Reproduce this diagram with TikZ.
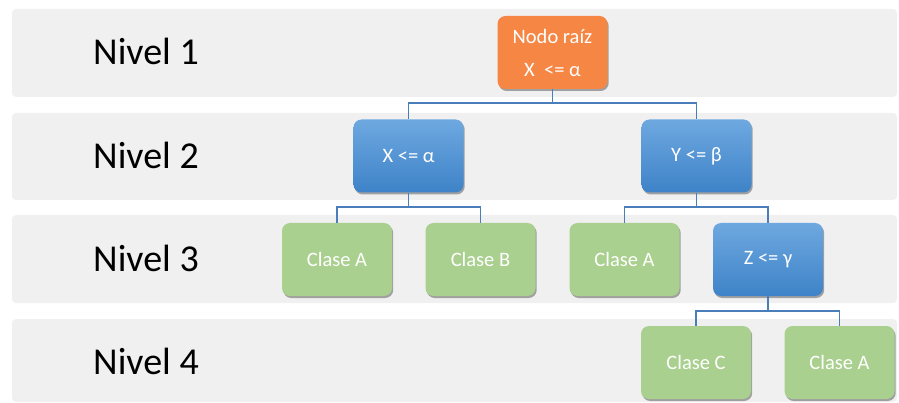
\documentclass[tikz,border=0pt]{standalone}
\usepackage{fontspec}
\setmainfont{Carlito}
\usetikzlibrary{shadows}
\definecolor{bandgray}{RGB}{240,240,240}
\definecolor{rootorange}{RGB}{246,134,68}
\definecolor{bluetop}{RGB}{110,168,224}
\definecolor{bluebot}{RGB}{62,131,200}
\definecolor{boxgreen}{RGB}{169,208,142}
\definecolor{linkblue}{RGB}{74,126,187}
\begin{document}
\begin{tikzpicture}[x=1pt,y=-1pt,
  band/.style={fill=bandgray, draw=none, rounded corners=4pt},
  lvl/.style={font=\fontsize{38}{40}\selectfont, text=black, anchor=center},
  box/.style={minimum width=110pt, minimum height=73pt, rounded corners=8pt, text=white,
    font=\fontsize{20.5}{33}\selectfont, align=center, inner sep=0pt,
    drop shadow={shadow xshift=1.2pt, shadow yshift=-2pt, opacity=0.45, fill=black!75}},
  rootbox/.style={box, fill=rootorange},
  bluebox/.style={box, top color=bluetop, bottom color=bluebot},
  greenbox/.style={box, fill=boxgreen},
  conn/.style={draw=linkblue, line width=1.1pt}
]
\useasboundingbox (0,0) rectangle (899,403);
% bands
\path[band] (12,9) rectangle (897,97);
\path[band] (12,113) rectangle (897,200);
\path[band] (12,215) rectangle (897,303);
\path[band] (12,319) rectangle (897,402);
% level labels
\node[lvl] (n1) at (146,51) {Nivel 1};
\node[lvl] (n2) at (146,155) {Nivel 2};
\node[lvl] (n3) at (146,258) {Nivel 3};
\node[lvl] (n4) at (146,361) {Nivel 4};
% connectors' junctions
\coordinate (j1) at (552.5,103);
\coordinate (j2) at (408.5,207);
\coordinate (j3) at (696.5,207);
\coordinate (j4) at (768,311);
% nodes
\node[rootbox] (root) at (552.5,52.5) {Nodo raíz\\X\ \ <= α};
\node[bluebox] (b1) at (408.5,156) {X <= α};
\node[bluebox] (b2) at (696.5,156) {Y <= β};
\node[greenbox] (g1) at (337,259.5) {Clase A};
\node[greenbox] (g2) at (480.5,259.5) {Clase B};
\node[greenbox] (g3) at (624.5,259.5) {Clase A};
\node[bluebox] (z) at (768,259.5) {Z <= γ};
\node[greenbox] (g4) at (696,362.5) {Clase C};
\node[greenbox] (g5) at (839.5,362.5) {Clase A};
% connectors
\draw[conn] (root.south) -- (j1);
\draw[conn] (j1) -| (b1.north);
\draw[conn] (j1) -| (b2.north);
\draw[conn] (b1.south) -- (j2);
\draw[conn] (j2) -| (g1.north);
\draw[conn] (j2) -| (g2.north);
\draw[conn] (b2.south) -- (j3);
\draw[conn] (j3) -| (g3.north);
\draw[conn] (j3) -| (z.north);
\draw[conn] (z.south) -- (j4);
\draw[conn] (j4) -| (g4.north);
\draw[conn] (j4) -| (g5.north);
\end{tikzpicture}
\end{document}
